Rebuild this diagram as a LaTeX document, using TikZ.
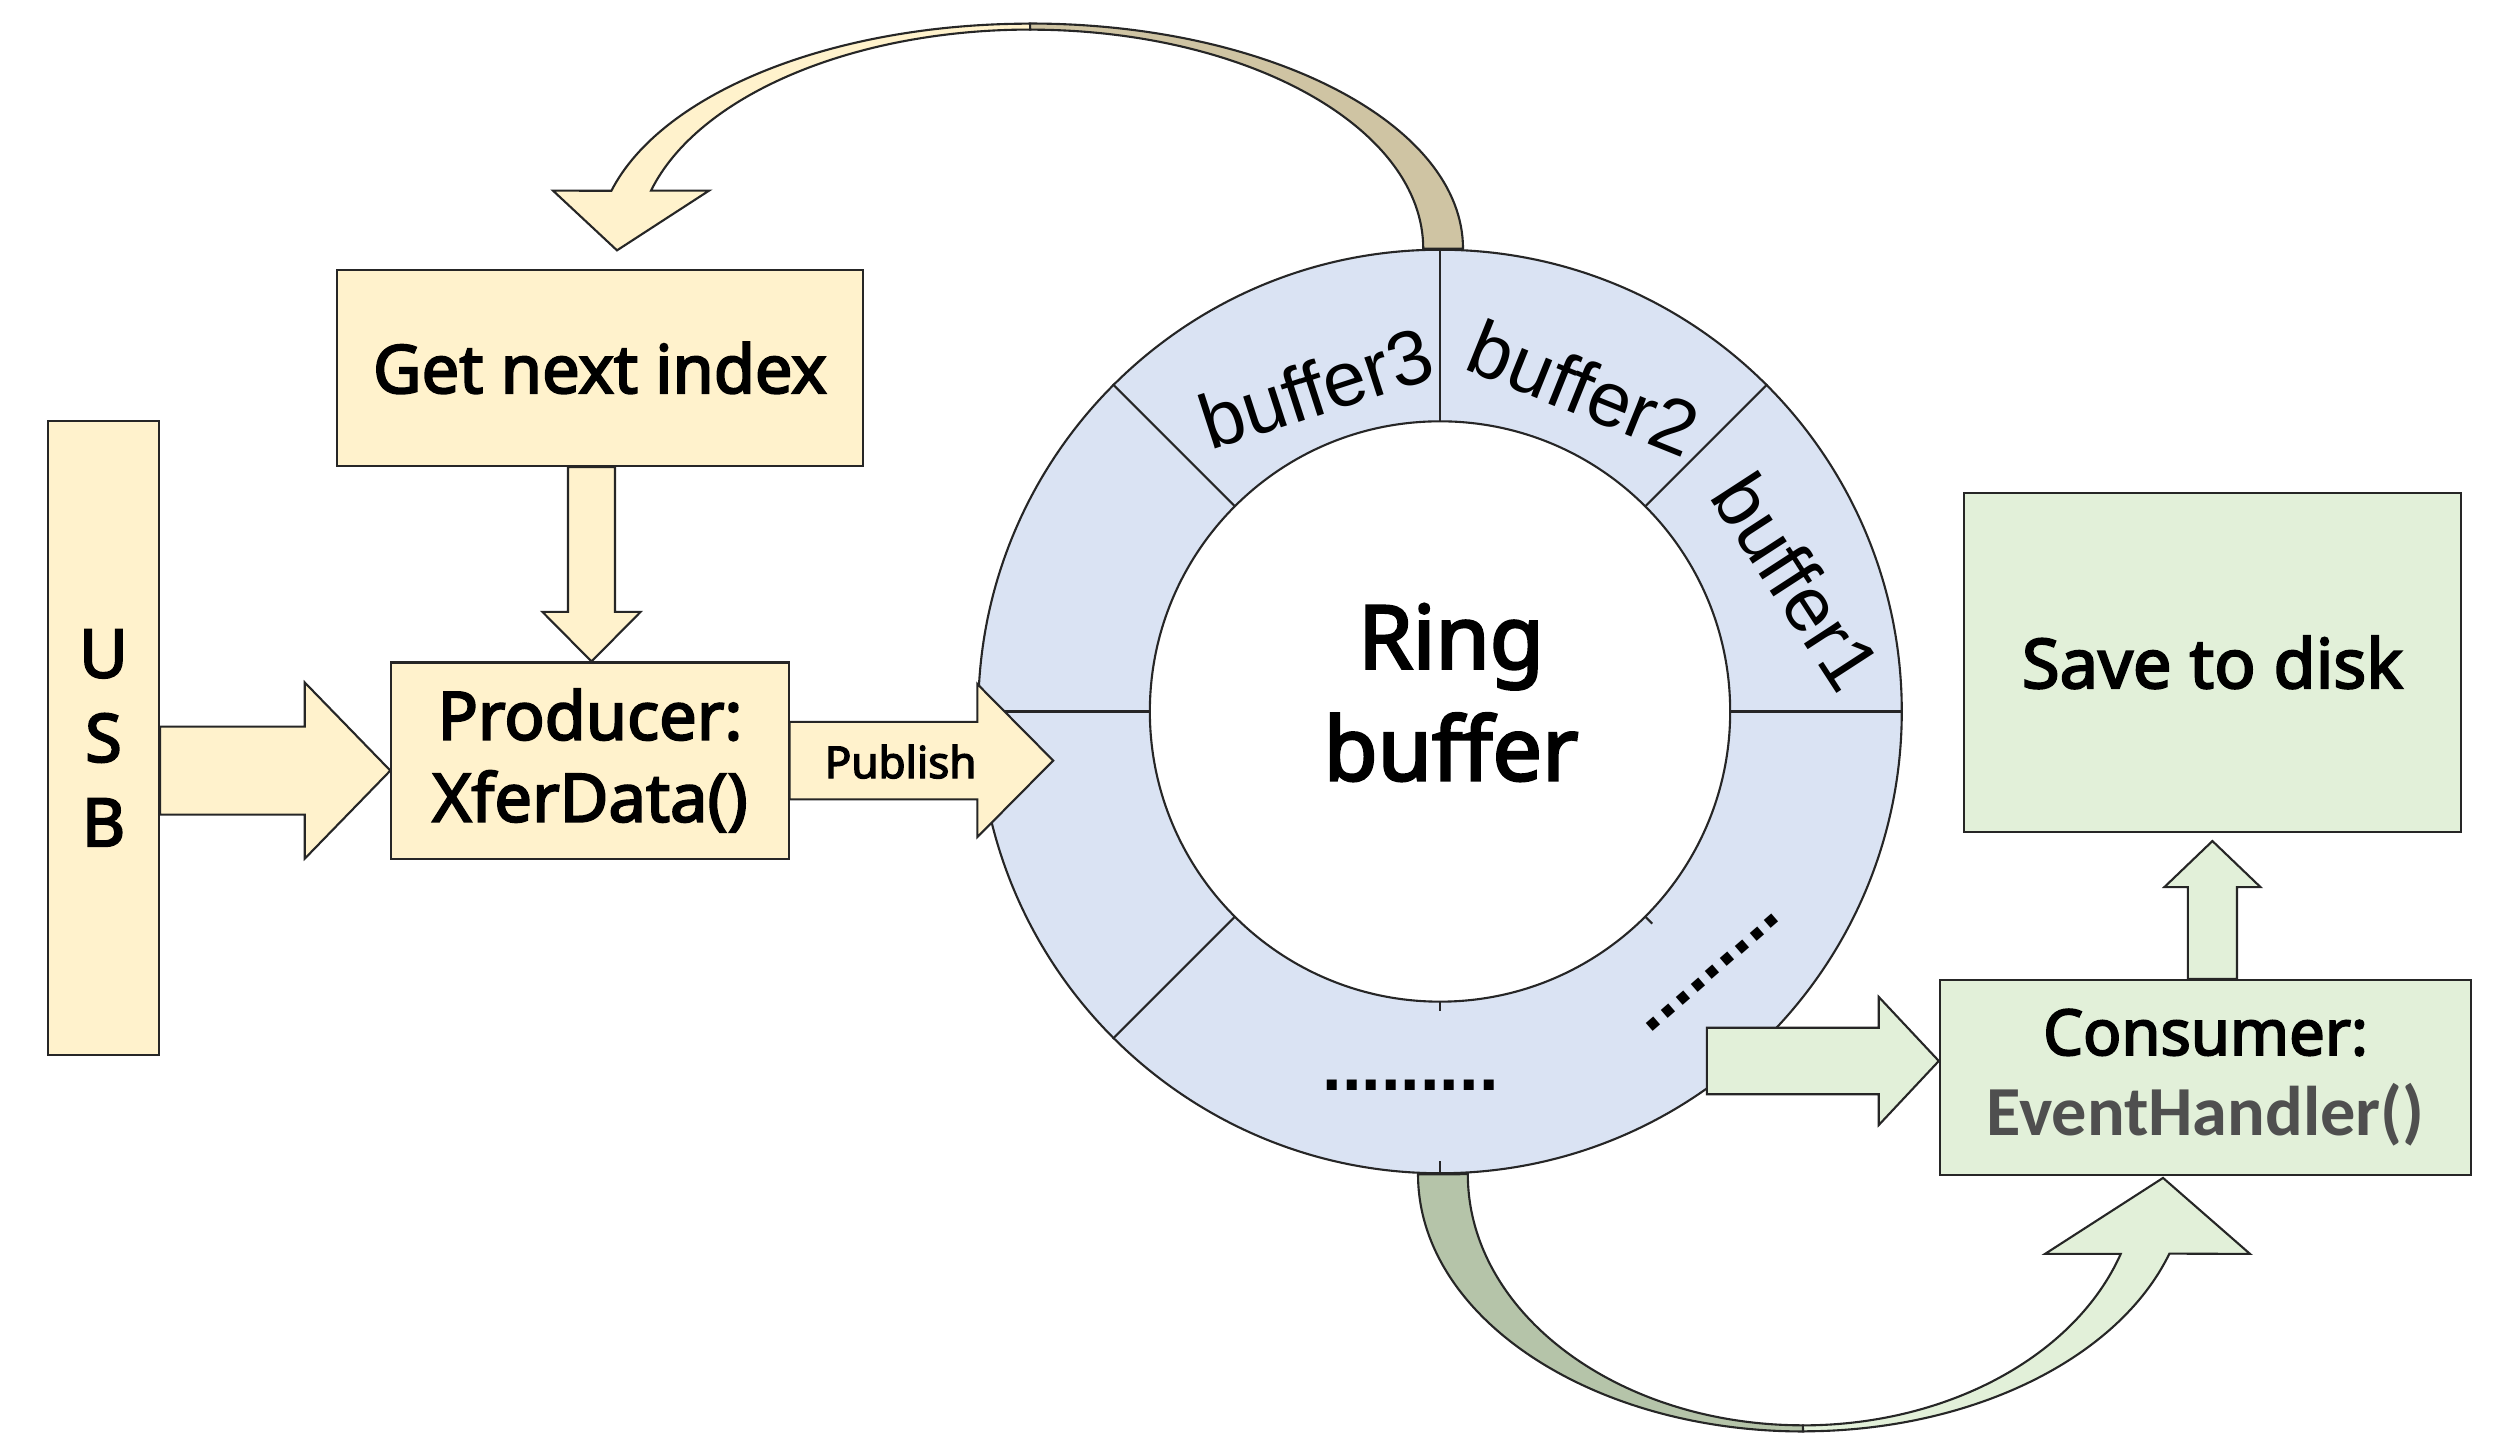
\documentclass[tikz,border=0pt]{standalone}
\usepackage{fontspec}
\setmainfont{Noto Sans}[FakeBold=3]
\newfontfamily\arialfont{Liberation Sans}
\newfontfamily\calfont{Carlito}
\usetikzlibrary{calc}

\definecolor{yfill}{HTML}{FFF2CC}
\definecolor{ydark}{HTML}{CFC4A3}
\definecolor{gfill}{HTML}{E2F0D9}
\definecolor{gdark}{HTML}{B5C4A9}
\definecolor{rfill}{HTML}{DAE3F3}
\definecolor{egray}{HTML}{4F4F4F}

\tikzset{
  box/.style={draw=black!85, line width=0.6pt, inner sep=0pt, align=center},
  ybox/.style={box, fill=yfill},
  gbox/.style={box, fill=gfill},
  buflab/.style={font=\arialfont\fontsize{22}{26}\selectfont, inner sep=0pt},
  dotlab/.style={font=\arialfont\bfseries\fontsize{20}{24}\selectfont, inner sep=0pt},
  yarrow/.style={draw=black!85, line width=0.6pt, fill=yfill},
  garrow/.style={draw=black!85, line width=0.6pt, fill=gfill}
}

% block arrow: style, from, to, half shaft, half head, head length
\newcommand{\blockarrow}[6]{%
  \path ($(#3)!#6!(#2)$) coordinate (hb);
  \filldraw[#1] ($(#2)!#4!90:(#3)$) -- ($(hb)!#4!90:(#3)$) -- ($(hb)!#5!90:(#3)$)
    -- (#3) -- ($(hb)!#5!-90:(#3)$) -- ($(hb)!#4!-90:(#3)$) -- ($(#2)!#4!-90:(#3)$) -- cycle;}

\begin{document}
\begin{tikzpicture}[x=0.01cm, y=0.01cm, line join=miter]
  \useasboundingbox (0,0) rectangle (2495,1440);

  % boxes
  \node[ybox, minimum width=1.11cm, minimum height=6.34cm,
        font=\fontsize{19}{24}\selectfont] (usb) at (103.5,702) {U\\S\\B};
  \node[ybox, minimum width=5.26cm, minimum height=1.96cm,
        font=\fontsize{19}{23}\selectfont] (next) at (599.8,1072) {Get next index};
  \node[ybox, minimum width=3.97cm, minimum height=1.96cm,
        font=\fontsize{19}{23.3}\selectfont] (prod) at (590,679.4) {Producer:\\XferData()};
  \node[gbox, minimum width=4.97cm, minimum height=3.39cm,
        font=\fontsize{19.5}{23}\selectfont] (save) at (2212.4,777.6) {Save to disk};
  \node[gbox, minimum width=5.31cm, minimum height=1.95cm,
        font=\fontsize{18}{22.8}\selectfont] (cons) at (2205.5,362.5)
        {Consumer:\\{\calfont\bfseries\fontsize{20}{22.8}\selectfont\color{egray}EventHandler()}};

  % ring buffer
  \node[circle, draw=black!85, line width=0.6pt, fill=rfill, inner sep=0pt,
        minimum size=9.23cm] (ring) at (1440,728.5) {};
  \foreach \a in {0,45,90,135,180,225}
    \draw[black!85, line width=0.6pt] (ring.\a) -- ($(ring.center)+(\a:290)$);
  \foreach \a in {270,315} {
    \draw[black!85, line width=0.6pt] (ring.\a) -- ($(ring.center)+(\a:450)$);
    \draw[black!85, line width=0.6pt] ($(ring.center)+(\a:290)$) -- ($(ring.center)+(\a:300)$);
  }
  \node[circle, draw=black!85, line width=0.6pt, fill=white, inner sep=0pt,
        minimum size=5.8cm] (hole) at (ring.center) {};
  \node[align=center, font=\fontsize{25}{31.8}\selectfont] (rtext) at (1451,747.5) {Ring\\buffer};

  \node[buflab, rotate=18] (b3) at ($(ring.center)+(111:347)$) {buffer3};
  \node[buflab, rotate=-22] (b2) at ($(ring.center)+(66:354)$) {buffer2};
  \node[buflab, rotate=-57] (b1) at ($(ring.center)+(20:380)$) {buffer1};
  \node[dotlab] (d1) at (1410.5,355) {.........};
  \node[dotlab, rotate=41] (d2) at (1712.8,467.5) {.........};

  % curved arrow over the top
  \coordinate (tc) at ($(ring.north)+(-410,0)$);
  \filldraw[draw=black!85, line width=0.6pt, fill=ydark] ($(tc)+(433,0)$)
    arc[start angle=0, end angle=90, x radius=4.33cm, y radius=2.25cm]
    -- ($(tc)+(0,219)$)
    arc[start angle=90, end angle=0, x radius=3.93cm, y radius=2.19cm] -- cycle;
  \filldraw[yarrow] ($(tc)+(0,225)$)
    arc[start angle=90, end angle=165.06, x radius=4.33cm, y radius=2.25cm]
    -- ($(tc)+(-477,58)$) -- ($(tc)+(-413,-1.7)$) -- ($(tc)+(-321,58)$) -- ($(tc)+(-379,58)$)
    arc[start angle=164.64, end angle=90, x radius=3.93cm, y radius=2.19cm] -- cycle;

  % curved arrow under the bottom
  \coordinate (bc) at ($(ring.south)+(363,0)$);
  \filldraw[draw=black!85, line width=0.6pt, fill=gdark] ($(bc)+(-385,0)$)
    arc[start angle=180, end angle=270, x radius=3.85cm, y radius=2.57cm]
    -- ($(bc)+(0,-251)$)
    arc[start angle=270, end angle=180, x radius=3.35cm, y radius=2.51cm] -- cycle;
  \filldraw[garrow] ($(bc)+(0,-257)$)
    arc[start angle=270, end angle=342, x radius=3.85cm, y radius=2.57cm]
    -- ($(bc)+(447,-79.6)$) -- ($(bc)+(360,-3.6)$) -- ($(bc)+(242,-79.6)$) -- ($(bc)+(317.7,-79.6)$)
    arc[start angle=341.5, end angle=270, x radius=3.35cm, y radius=2.51cm] -- cycle;

  % block arrows
  \coordinate (u1) at ($(usb.east |- prod.west)+(0,-10)$);
  \coordinate (u2) at ($(prod.west)+(0,-10)$);
  \blockarrow{yarrow}{u1}{u2}{0.44cm}{0.88cm}{0.855cm}

  \coordinate (n1) at ($(next.south)+(-8.3,0)$);
  \coordinate (n2) at (prod.north -| n1);
  \blockarrow{yarrow}{n1}{n2}{0.235cm}{0.49cm}{0.495cm}

  \coordinate (p1) at (prod.east);
  \coordinate (p2) at ($(ring.west |- prod.east)+(76,0)$);
  \blockarrow{yarrow}{p1}{p2}{0.387cm}{0.765cm}{0.758cm}
  \node[font=\fontsize{12.5}{15}\selectfont] (pub) at ($(prod.east)+(111,-1)$) {Publish};

  \coordinate (c2) at ($(cons.west)+(0,16.5)$);
  \coordinate (c1) at ($(c2)+(-232,0)$);
  \blockarrow{garrow}{c1}{c2}{0.332cm}{0.64cm}{0.60cm}

  \coordinate (s1) at (cons.north -| save.south);
  \coordinate (s2) at ($(save.south)+(0,-8)$);
  \blockarrow{garrow}{s1}{s2}{0.245cm}{0.48cm}{0.46cm}
\end{tikzpicture}
\end{document}
